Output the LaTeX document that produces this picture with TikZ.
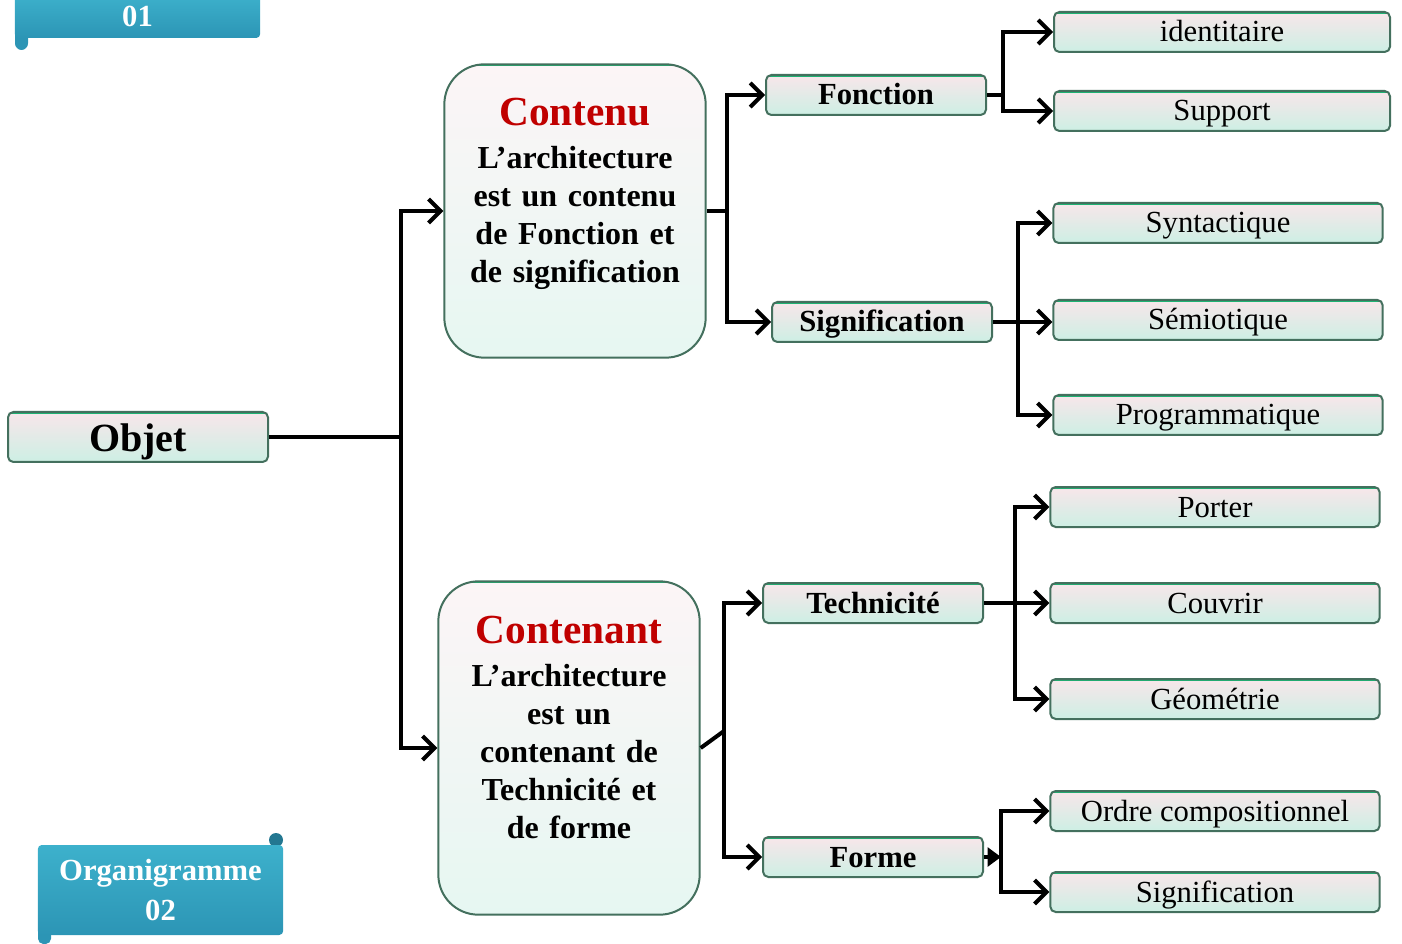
\documentclass[tikz,border=0pt]{standalone}
\usepackage{fontspec}
\setmainfont{Liberation Serif}
\usepackage{tikz}
\usetikzlibrary{shapes.geometric, arrows.meta}
\definecolor{boxline}{HTML}{44705E}
\definecolor{boxedge}{HTML}{1FB273}
\definecolor{boxtop}{HTML}{F8E6EA}
\definecolor{boxbot}{HTML}{CDEFE4}
\definecolor{bannertop}{HTML}{3DB1CC}
\definecolor{bannerbot}{HTML}{2C95B5}
\definecolor{titlered}{HTML}{C00000}
\tikzset{greentop/.style={path picture={\draw [boxedge, line width=3pt] (path picture bounding box.north west) -- (path picture bounding box.north east);}}}
\tikzstyle{root} = [rectangle, rounded corners=4pt, minimum width=195pt, minimum height=37.5pt, text height=21pt, text depth=0pt, draw=boxline, line width=1.5pt, top color=boxtop, middle color=white, bottom color=boxbot, greentop, font=\fontsize{30}{32}\selectfont\bfseries]
\tikzstyle{bigbox} = [rectangle, rounded corners=30pt, minimum width=196pt, text width=185pt, align=center, draw=boxline, line width=1.5pt, top color=boxtop!40, middle color=white, bottom color=boxbot!50, greentop, font=\fontsize{24}{28.5}\selectfont\bfseries]
\tikzstyle{midbox} = [rectangle, rounded corners=4pt, minimum width=165pt, minimum height=30pt, inner sep=1pt, text height=15pt, text depth=0pt, draw=boxline, line width=1.5pt, top color=boxtop, middle color=white, bottom color=boxbot, greentop, font=\fontsize{23}{25}\selectfont\bfseries]
\tikzstyle{leafbox} = [rectangle, rounded corners=4pt, minimum width=247pt, minimum height=30pt, inner sep=1pt, text height=15pt, text depth=0pt, draw=boxline, line width=1.5pt, top color=boxtop, middle color=white, bottom color=boxbot, greentop, font=\fontsize{23}{25}\selectfont]
\tikzstyle{banner} = [rectangle, rounded corners=3pt, minimum width=184pt, text=white, align=center, top color=bannertop, bottom color=bannerbot, font=\fontsize{23}{28}\selectfont\bfseries]
\tikzstyle{link} = [line width=3pt]
\tikzstyle{arrow} = [line width=3pt, ->, >={Straight Barb[length=9pt,width=18pt]}]

\begin{document}
\begin{tikzpicture}[x=0.75pt, y=-0.75pt]
  \useasboundingbox (0,0) rectangle (1402,944);
  \fill [bannerbot, rounded corners=5pt] (15,25) rectangle (28,50);
  \node (tag1) [banner, minimum height=33pt] at (137.5,16) {01};
  \fill [bannerbot, rounded corners=4pt] (38,920) rectangle (51,944);
  \fill [bannerbot!80!black] (276,840) circle (7);
  \node (tag2) [banner, minimum height=67.5pt] at (160.5,890) {Organigramme\\[2pt]02};
  \node (objet) [root] at (138,437) {Objet};
  \node (contenu) [bigbox, minimum height=220pt] at (575,211) {{\color{titlered}\fontsize{31}{33}\selectfont Contenu}\\[4pt]L’architecture\\est un contenu\\de Fonction et\\de signification\\[-6pt] \strut};
  \node (contenant) [bigbox, minimum height=250pt] at (569,748) {{\color{titlered}\fontsize{31}{33}\selectfont Contenant}\\[4pt]L’architecture\\est un\\contenant de\\Technicité et\\de forme\\[-6pt] \strut};
  \node (fonction) [midbox] at (876,95) {Fonction};
  \node (signif) [midbox] at (882,322) {Signification};
  \node (technicite) [midbox] at (873,603) {Technicité};
  \node (forme) [midbox] at (873,857) {Forme};
  \node (ident) [leafbox, minimum width=252pt] at (1222,32) {identitaire};
  \node (support) [leafbox, minimum width=252pt] at (1222,111) {Support};
  \node (syntax) [leafbox] at (1218,223) {Syntactique};
  \node (semio) [leafbox] at (1218,320) {Sémiotique};
  \node (program) [leafbox] at (1218,415) {Programmatique};
  \node (porter) [leafbox] at (1215,507) {Porter};
  \node (couvrir) [leafbox] at (1215,603) {Couvrir};
  \node (geometrie) [leafbox] at (1215,699) {Géométrie};
  \node (ordre) [leafbox] at (1215,811) {Ordre compositionnel};
  \node (signifb) [leafbox] at (1215,892) {Signification};
  \coordinate (j1) at (401,437);
  \coordinate (j2) at (727,211);
  \coordinate (j3) at (1003,95);
  \coordinate (j4) at (724,731);
  \coordinate (j5) at (1018,320);
  \coordinate (j6) at (1015,603);
  \coordinate (j7) at (1001,857);
  \draw [link] (objet) -- (j1);
  \draw [arrow] (j1) |- (contenu.west);
  \draw [arrow] (j1) |- (contenant.west);
  \draw [link] (contenu) -- (j2);
  \draw [arrow] (j2) |- (fonction.west);
  \draw [arrow] (j2) |- (signif.west);
  \draw [link] (fonction) -- (j3);
  \draw [arrow] (j3) |- (ident.west);
  \draw [arrow] (j3) |- (support.west);
  \draw [arrow] (signif.east) -- (signif.east -| semio.west);
  \draw [arrow] (j5) |- (syntax.west);
  \draw [arrow] (j5) |- (program.west);
  \draw [link] (contenant.east) -- (j4);
  \draw [arrow] (j4) |- (technicite.west);
  \draw [arrow] (j4) |- (forme.west);
  \draw [arrow] (technicite) -- (couvrir);
  \draw [arrow] (j6) |- (porter.west);
  \draw [arrow] (j6) |- (geometrie.west);
  \draw [link, -{Triangle[length=10pt,width=14pt]}] (forme) -- (j7);
  \draw [arrow] (j7) |- (ordre.west);
  \draw [arrow] (j7) |- (signifb.west);
\end{tikzpicture}
\end{document}
